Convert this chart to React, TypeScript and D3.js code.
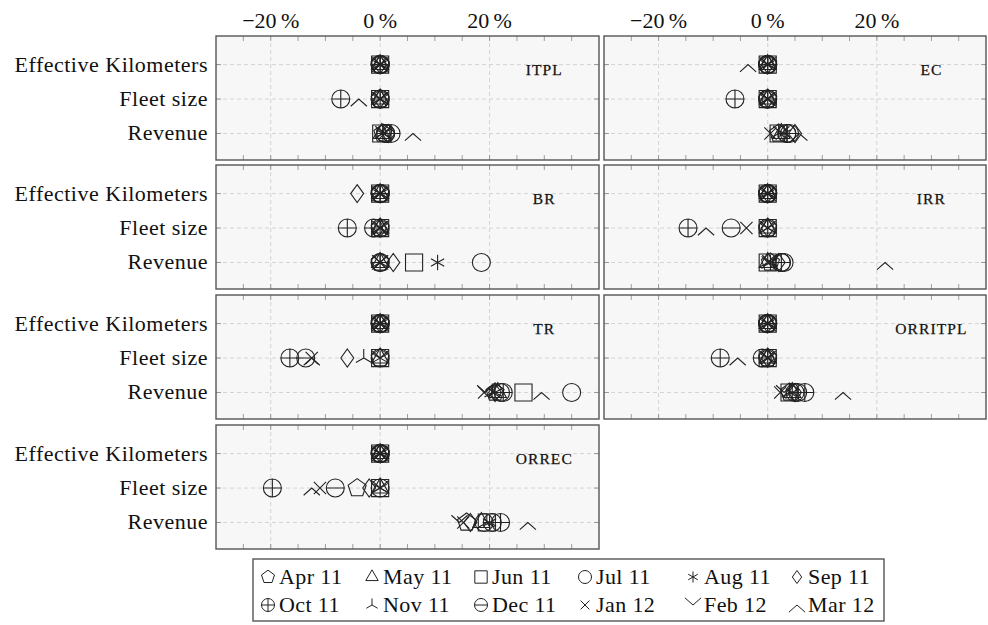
import React from "react";
import * as d3 from "d3";

// Months shown in the legend, each with its own marker shape
const months = ["Apr 11", "May 11", "Jun 11", "Jul 11", "Aug 11", "Sep 11", "Oct 11", "Nov 11", "Dec 11", "Jan 12", "Feb 12", "Mar 12"];
const markerKinds = ["pentagon", "triangle", "square", "circle", "asterisk", "diamond", "oplus", "tri", "ominus", "cross", "vee", "wedge"];

// Row categories (top to bottom)
const rowLabels = ["Effective Kilometers", "Fleet size", "Revenue"];
const xTicks = [-20, 0, 20];
const xMinorTicks = d3.range(-25, 40, 5);

// Change (%) per month; each panel: [Effective Kilometers, Fleet size, Revenue]
const itpl = [
  [0, 0, 0, 0, 0, 0, 0, 0, 0, 0, 0, 0],
  [0, 0, 0, 0, 0, 0, -7.2, 0, 0, 0, 0, -3.9],
  [0.5, 0.3, 0.2, 1, 0.5, 1.5, 2, 0.5, 1, 0.8, 0.6, 6],
];
const ec = [
  [0, 0, 0, 0, 0, 0, 0, 0, 0, 0, 0, -3.6],
  [0, 0, 0, 0, 0, 0, -6, 0, 0, 0, 0, 0],
  [2, 2.5, 2, 3.5, 3, 5, 3.5, 2, 4, 0.5, 2.5, 5.8],
];
const br = [
  [0, 0, 0, 0, 0, -4.2, 0, 0, 0, 0, 0, 0],
  [0, 0, 0, 0, 0, 0, -6, 0, -1.2, 0, 0, 0],
  [0, 0, 6.2, 18.5, 10.5, 2.4, 0, 0, 0, 0, 0, 0],
];
const irr = [
  [0, 0, 0, 0, 0, 0, 0, 0, 0, 0, 0, 0],
  [0, 0, 0, 0, 0, 0, -14.6, 0, -6.7, -3.9, 0, -11.3],
  [0.5, 0, 0, 3, 0.5, 2, 2.5, 0, 2.5, 0, 0.5, 21.5],
];
const tr = [
  [0, 0, 0, 0, 0, 0, 0, 0, 0, 0, 0, 0],
  [0, 0, 0, 0, 0, -6, -16.5, -3, -13.6, -12.5, 0, -12.5],
  [21, 21.5, 26.2, 35, 21, 21, 22.5, 20.5, 22, 19, 19.2, 29.5],
];
const orritpl = [
  [0, 0, 0, 0, 0, 0, 0, 0, 0, 0, 0, 0],
  [0, 0, 0, 0, 0, 0, -8.7, 0, -1, 0, 0, -5.5],
  [4, 4.5, 4, 5, 4.5, 5, 6.8, 4, 5.5, 2.3, 3, 13.8],
];
const orrec = [
  [0, 0, 0, 0, 0, 0, 0, 0, 0, 0, 0, 0],
  [-4.2, 0, 0, 0, 0, -2, -19.7, 0, -8.2, -11, 0, -12.5],
  [15.8, 18.5, 19.5, 19, 20, 16.5, 22, 19.5, 20.5, 15.2, 14.5, 27],
];

const panelNames = ["ITPL", "EC", "BR", "IRR", "TR", "ORRITPL", "ORREC"];
const panelData = [itpl, ec, br, irr, tr, orritpl, orrec];

const FONT = "'Liberation Serif', 'Times New Roman', serif";
const INK = "#222";

function markerPath(kind: string, r: number): string {
  const circ = `M${r},0A${r},${r} 0 1 1 ${-r},0A${r},${r} 0 1 1 ${r},0Z`;
  const poly = (n: number, rad: number, start: number) =>
    d3.range(n).map((i) => {
      const a = ((start + (360 / n) * i) * Math.PI) / 180;
      return `${i ? "L" : "M"}${rad * Math.cos(a)},${rad * Math.sin(a)}`;
    }).join("") + "Z";
  switch (kind) {
    case "pentagon":
      return poly(5, r * 1.05, -90);
    case "triangle":
      return poly(3, r * 1.1, -90);
    case "square":
      return `M${-r * 0.95},${-r * 0.95}H${r * 0.95}V${r * 0.95}H${-r * 0.95}Z`;
    case "circle":
      return circ;
    case "asterisk": {
      const a = r * 0.85;
      const c = Math.cos(Math.PI / 6) * a, s = Math.sin(Math.PI / 6) * a;
      return `M0,${-a}V${a}M${-c},${-s}L${c},${s}M${-c},${s}L${c},${-s}`;
    }
    case "diamond":
      return `M0,${-r}L${r * 0.72},0L0,${r}L${-r * 0.72},0Z`;
    case "oplus":
      return `${circ}M${-r},0H${r}M0,${-r}V${r}`;
    case "tri": {
      const c = Math.cos(Math.PI / 6) * r, s = Math.sin(Math.PI / 6) * r;
      return `M0,0V${-r}M0,0L${-c},${s}M0,0L${c},${s}`;
    }
    case "ominus":
      return `${circ}M${-r},0H${r}`;
    case "cross": {
      const a = r * 0.68;
      return `M${-a},${-a}L${a},${a}M${-a},${a}L${a},${-a}`;
    }
    case "vee":
      return `M${-r * 0.9},${-r * 0.8}L0,0L${r * 0.9},${-r * 0.8}`;
    case "wedge":
      return `M${-r * 0.9},${r * 0.8}L0,0L${r * 0.9},${r * 0.8}`;
    default:
      return circ;
  }
}

// Panel geometry
const colX = [
  [216, 599],
  [604, 986],
];
const rowTop = [36, 165, 295, 425];
const panelH = 124;

function Panel({ name, data, col, row }: { name: string; data: number[][]; col: number; row: number }) {
  const [x0, x1] = colX[col];
  const top = rowTop[row];
  const x = d3.scaleLinear().domain([-30, 40]).range([x0, x1]);
  const y = d3.scaleLinear().domain([0.23, 3.83]).range([top + panelH, top]);
  const rowVal = [3, 2, 1];
  return (
    <g>
      <rect x={x0} y={top} width={x1 - x0} height={panelH} fill="#f7f7f7" />
      {/* dashed grid */}
      {xTicks.map((t) => (
        <line key={"gx" + t} x1={x(t)} x2={x(t)} y1={top} y2={top + panelH} stroke="#d4d4d4" strokeDasharray="4,3" />
      ))}
      {rowVal.map((v) => (
        <line key={"gy" + v} x1={x0} x2={x1} y1={y(v)} y2={y(v)} stroke="#d4d4d4" strokeDasharray="4,3" />
      ))}
      {/* tick marks */}
      {xMinorTicks.map((t) => (
        <g key={"t" + t} stroke="#888" strokeWidth={0.8}>
          <line x1={x(t)} x2={x(t)} y1={top} y2={top + 5} />
          <line x1={x(t)} x2={x(t)} y1={top + panelH} y2={top + panelH - 5} />
        </g>
      ))}
      {rowVal.map((v) => (
        <g key={"ty" + v} stroke="#888" strokeWidth={0.8}>
          <line x1={x0} x2={x0 + 5} y1={y(v)} y2={y(v)} />
          <line x1={x1} x2={x1 - 5} y1={y(v)} y2={y(v)} />
        </g>
      ))}
      {/* markers */}
      {data.map((vals, ri) =>
        vals.map((v, mi) => (
          <path
            key={ri + "-" + mi}
            d={markerPath(markerKinds[mi], 9)}
            transform={`translate(${x(v)},${y(rowVal[ri])})`}
            fill="none"
            stroke={INK}
            strokeWidth={1.1}
          />
        ))
      )}
      <text x={x(30)} y={y(3) + 10} textAnchor="middle" fontFamily={FONT} fontSize={15.5} letterSpacing={1.1} fill="#111" stroke="#111" strokeWidth={0.25}>
        {name}
      </text>
      <rect x={x0} y={top} width={x1 - x0} height={panelH} fill="none" stroke="#555" strokeWidth={1.4} />
      {col === 0 &&
        rowLabels.map((lab, i) => (
          <text key={lab} x={208} y={y(rowVal[i]) + 7} textAnchor="end" fontFamily={FONT} fontSize={22} letterSpacing={0.5} fill="#111">
            {lab}
          </text>
        ))}
      {row === 0 &&
        xTicks.map((t) => (
          <text key={"xl" + t} x={x(t)} y={28} textAnchor="middle" fontFamily={FONT} fontSize={22} fill="#111">
            {(t < 0 ? "\u2212" : "") + Math.abs(t) + "\u2009%"}
          </text>
        ))}
    </g>
  );
}

const legendCols = [268, 372, 481, 585, 693, 797];
const legendRows = [577, 605];

export default function App() {
  return (
    <svg width={988} height={625} style={{ position: "absolute", left: 0, top: 0, background: "#fff" }}>
      {panelData.map((d, i) => (
        <Panel key={panelNames[i]} name={panelNames[i]} data={d} col={i % 2} row={Math.floor(i / 2)} />
      ))}
      <rect x={253} y={559} width={631} height={62} fill="#fff" stroke="#555" strokeWidth={1.4} />
      {months.map((m, i) => {
        const cx = legendCols[i % 6];
        const cy = legendRows[Math.floor(i / 6)];
        const kind = markerKinds[i];
        const size = kind === "vee" || kind === "wedge" ? 9 : 6.5;
        return (
          <g key={m}>
            <path d={markerPath(kind, size)} transform={`translate(${cx},${cy})`} fill="none" stroke={INK} strokeWidth={1} />
            <text x={cx + 11} y={cy + 7} fontFamily={FONT} fontSize={22} letterSpacing={0.4} fill="#111">
              {m}
            </text>
          </g>
        );
      })}
    </svg>
  );
}
